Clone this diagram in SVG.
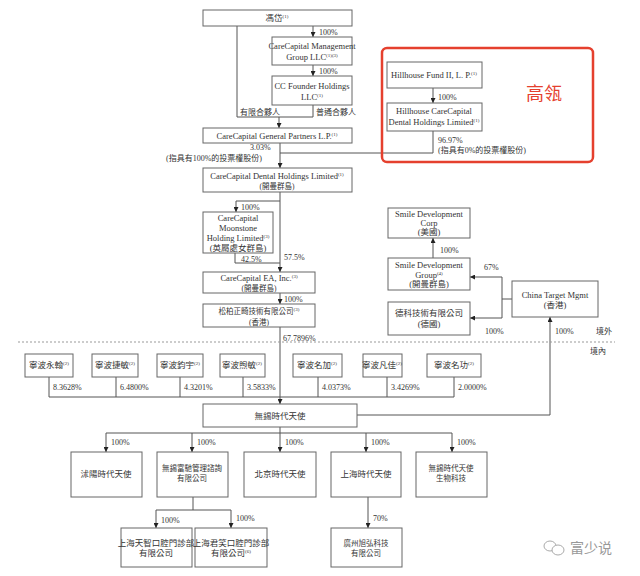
<svg xmlns="http://www.w3.org/2000/svg" width="640" height="576" viewBox="0 0 640 576">
<defs>
<marker id="a" viewBox="0 0 6 6" refX="6" refY="3" markerWidth="5" markerHeight="5" orient="auto" markerUnits="userSpaceOnUse"><path d="M0,0 L6,3 L0,6z" fill="#222"/></marker>
<style>
.b{fill:#fff;stroke:#666;stroke-width:1}
.t{font-family:"Liberation Serif","Noto Sans CJK TC",serif;font-size:8.5px;fill:#333;text-anchor:middle}
.z{font-size:7.5px}
.p{font-family:"Liberation Serif","Noto Sans CJK TC",serif;font-size:8px;fill:#333}
.s{font-size:5px}
.c{fill:none;stroke:#555;stroke-width:1}
.ca{fill:none;stroke:#555;stroke-width:1;marker-end:url(#a)}
</style>
</defs>
<rect width="640" height="576" fill="#fff"/>

<g id="connectors">
<path class="ca" d="M313,26 V37"/>
<path class="ca" d="M313,65 V76"/>
<path class="c" d="M237,26 V117 H313 V105"/>
<path class="ca" d="M279,117 V128"/>
<path class="ca" d="M433,88 V103"/>
<path class="c" d="M433,131 V153 H280"/>
<path class="ca" d="M280,143 V168"/>
<path class="c" d="M280,192 V263"/>
<path class="ca" d="M280,201 H236 V212"/>
<path class="ca" d="M235,253 V263 H280 V272"/>
<path class="ca" d="M280,293 V304"/>
<path class="ca" d="M280,327 V404"/>
<path class="ca" d="M433,258 V238"/>
<path class="c" d="M512,299 H502"/>
<path class="ca" d="M502,299 V277 H470"/>
<path class="ca" d="M502,299 V318 H470"/>
<path class="ca" d="M550,415 V317"/>
<path class="c" d="M550,415 H357"/>
<path class="c" d="M49,377 V397 H454 V377 M116,377 V397 M180,377 V397 M243,377 V397 M318,377 V397 M387,377 V397"/>
<path class="ca" d="M280,427 V452"/>
<path class="c" d="M106,433 H452"/>
<path class="ca" d="M106,433 V452"/>
<path class="ca" d="M192,433 V452"/>
<path class="ca" d="M366,433 V452"/>
<path class="ca" d="M452,433 V452"/>
<path class="c" d="M193,497 V510 M156,510 H231"/>
<path class="ca" d="M156,510 V528"/>
<path class="ca" d="M231,510 V528"/>
<path class="ca" d="M368,497 V528"/>
<line x1="18" y1="342" x2="615" y2="342" stroke="#999" stroke-width="1" stroke-dasharray="2,2"/>
</g>

<g id="labels">
<text class="p" x="319" y="35">100%</text>
<text class="p" x="319" y="74">100%</text>
<text class="p" x="240" y="115">有限合夥人</text>
<text class="p" x="316" y="115">普通合夥人</text>
<text class="p" x="438" y="100">100%</text>
<text class="p" x="438" y="143">96.97%</text>
<text class="p" x="438" y="153">(指具有0%的投票權股份)</text>
<text class="p" x="250" y="150">3.03%</text>
<text class="p" x="166" y="161">(指具有100%的投票權股份)</text>
<text class="p" x="241" y="210">100%</text>
<text class="p" x="241" y="262">42.5%</text>
<text class="p" x="284" y="260">57.5%</text>
<text class="p" x="284" y="302">100%</text>
<text class="p" x="283" y="341">67.7896%</text>
<text class="p" x="440" y="253">100%</text>
<text class="p" x="484" y="270">67%</text>
<text class="p" x="485" y="334">100%</text>
<text class="p" x="555" y="334">100%</text>
<text class="p" x="596" y="334">境外</text>
<text class="p" x="590" y="354">境內</text>
<text class="p" x="53" y="390">8.3628%</text>
<text class="p" x="120" y="390">6.4800%</text>
<text class="p" x="184" y="390">4.3201%</text>
<text class="p" x="247" y="390">3.5833%</text>
<text class="p" x="322" y="390">4.0373%</text>
<text class="p" x="391" y="390">3.4269%</text>
<text class="p" x="458" y="390">2.0000%</text>
<text class="p" x="111" y="445">100%</text>
<text class="p" x="197" y="445">100%</text>
<text class="p" x="285" y="445">100%</text>
<text class="p" x="371" y="445">100%</text>
<text class="p" x="457" y="445">100%</text>
<text class="p" x="161" y="523">100%</text>
<text class="p" x="236" y="521">100%</text>
<text class="p" x="373" y="521">70%</text>
</g>

<g id="hillhouse-group">
<rect x="382" y="48" width="211" height="114" rx="5" fill="none" stroke="#e5402e" stroke-width="2.5"/>
<text x="544" y="100" font-family="Noto Sans CJK SC,sans-serif" font-size="18" fill="#e5402e" text-anchor="middle">高瓴</text>
</g>

<g id="n-fengdai"><rect class="b" x="203" y="10" width="149" height="16"/><text class="t" x="277" y="21">馮岱<tspan class="s" dy="-3">(1)</tspan></text></g>
<g id="n-ccmg"><rect class="b" x="272" y="37" width="80" height="28"/><text class="t" x="312" y="49">CareCapital Management</text><text class="t" x="312" y="60">Group LLC<tspan class="s" dy="-3">(1)(3)</tspan></text></g>
<g id="n-ccfh"><rect class="b" x="272" y="76" width="80" height="29"/><text class="t" x="312" y="89" font-size="9.5">CC Founder Holdings</text><text class="t" x="312" y="100" font-size="9.5">LLC<tspan class="s" dy="-3">(1)</tspan></text></g>
<g id="n-gp"><rect class="b" x="203" y="128" width="149" height="15"/><text class="t" x="277" y="139">CareCapital General Partners L.P.<tspan class="s" dy="-3">(1)</tspan></text></g>
<g id="n-hf"><rect class="b" x="387" y="62" width="95" height="26"/><text class="t" x="434" y="78" font-size="8">Hillhouse Fund II, L. P.<tspan class="s" dy="-3">(1)</tspan></text></g>
<g id="n-hccd"><rect class="b" x="387" y="103" width="95" height="28"/><text class="t" x="434" y="114" font-size="8">Hillhouse CareCapital</text><text class="t" x="434" y="125" font-size="8">Dental Holdings Limited<tspan class="s" dy="-3">(1)</tspan></text></g>
<g id="n-ccdh"><rect class="b" x="203" y="168" width="149" height="24"/><text class="t" x="277" y="179">CareCapital Dental Holdings Limited<tspan class="s" dy="-3">(1)</tspan></text><text class="t z" x="277" y="189">(開曼群島)</text></g>
<g id="n-moon"><rect class="b" x="203" y="212" width="70" height="41"/><text class="t" x="238" y="221">CareCapital</text><text class="t" x="238" y="231">Moonstone</text><text class="t" x="238" y="241">Holding Limited<tspan class="s" dy="-3">(3)</tspan></text><text class="t" x="238" y="251" font-size="7">(英屬處女群島)</text></g>
<g id="n-ea"><rect class="b" x="203" y="272" width="112" height="21"/><text class="t" x="259" y="281">CareCapital EA, Inc.<tspan class="s" dy="-3">(3)</tspan></text><text class="t z" x="259" y="291">(開曼群島)</text></g>
<g id="n-songbai"><rect class="b" x="203" y="304" width="112" height="23"/><text class="t z" x="259" y="314">松柏正畸技術有限公司<tspan class="s" dy="-3">(3)</tspan></text><text class="t z" x="259" y="325">(香港)</text></g>
<g id="n-sdc"><rect class="b" x="388" y="208" width="82" height="30"/><text class="t" x="429" y="217" font-size="8">Smile Development</text><text class="t" x="429" y="226" font-size="8">Corp</text><text class="t" x="429" y="235" font-size="7">(美國)</text></g>
<g id="n-sdg"><rect class="b" x="388" y="258" width="82" height="32"/><text class="t" x="429" y="268" font-size="8">Smile Development</text><text class="t" x="429" y="278" font-size="8">Group<tspan class="s" dy="-3">(4)</tspan></text><text class="t" x="429" y="287" font-size="7">(開曼群島)</text></g>
<g id="n-deke"><rect class="b" x="388" y="302" width="82" height="33"/><text class="t" x="429" y="316" font-size="7.5">德科技術有限公司</text><text class="t" x="429" y="327" font-size="7">(德國)</text></g>
<g id="n-ctm"><rect class="b" x="512" y="281" width="86" height="36"/><text class="t" x="555" y="298" font-size="8">China Target Mgmt</text><text class="t" x="555" y="308" font-size="7">(香港)</text></g>
<g id="n-yonghan"><rect class="b" x="25" y="354" width="48" height="23"/><text class="t" x="49" y="368" font-size="7.5">寧波永翰<tspan class="s" dy="-3">(2)</tspan></text></g>
<g id="n-jiemin"><rect class="b" x="92" y="354" width="46" height="23"/><text class="t" x="115" y="368" font-size="7.5">寧波捷敏<tspan class="s" dy="-3">(2)</tspan></text></g>
<g id="n-junyu"><rect class="b" x="157" y="354" width="46" height="23"/><text class="t" x="180" y="368" font-size="7.5">寧波鈞宇<tspan class="s" dy="-3">(2)</tspan></text></g>
<g id="n-xumin"><rect class="b" x="220" y="354" width="45" height="23"/><text class="t" x="242" y="368" font-size="7.5">寧波煦敏<tspan class="s" dy="-3">(2)</tspan></text></g>
<g id="n-mingjia"><rect class="b" x="293" y="354" width="49" height="23"/><text class="t" x="317" y="368" font-size="7.5">寧波名加<tspan class="s" dy="-3">(2)</tspan></text></g>
<g id="n-fanjia"><rect class="b" x="363" y="354" width="39" height="23"/><text class="t" x="382" y="368" font-size="7.5">寧波凡佳<tspan class="s" dy="-3">(2)</tspan></text></g>
<g id="n-minggong"><rect class="b" x="427" y="354" width="54" height="23"/><text class="t" x="454" y="368" font-size="7.5">寧波名功<tspan class="s" dy="-3">(2)</tspan></text></g>
<g id="n-wuxi"><rect class="b" x="203" y="404" width="154" height="23"/><text class="t" x="280" y="419">無錫時代天使</text></g>
<g id="n-shuyang"><rect class="b" x="71" y="452" width="71" height="45"/><text class="t" x="106" y="477">沭陽時代天使</text></g>
<g id="n-fuchi"><rect class="b" x="157" y="452" width="71" height="45"/><text class="t z" x="192" y="471">無錫富馳管理諮詢</text><text class="t z" x="192" y="481">有限公司</text></g>
<g id="n-beijing"><rect class="b" x="244" y="452" width="72" height="45"/><text class="t" x="280" y="477">北京時代天使</text></g>
<g id="n-shanghai"><rect class="b" x="331" y="452" width="70" height="45"/><text class="t" x="366" y="477">上海時代天使</text></g>
<g id="n-bio"><rect class="b" x="416" y="452" width="71" height="45"/><text class="t z" x="451" y="471">無錫時代天使</text><text class="t z" x="451" y="481">生物科技</text></g>
<g id="n-tianzhi"><rect class="b" x="121" y="528" width="71" height="39"/><text class="t" x="156" y="546" font-size="7">上海天智口腔門診部</text><text class="t" x="156" y="556" font-size="7">有限公司</text></g>
<g id="n-junxiao"><rect class="b" x="195" y="528" width="72" height="39"/><text class="t" x="231" y="546" font-size="7">上海君笑口腔門診部</text><text class="t" x="231" y="556" font-size="7">有限公司<tspan class="s" dy="-3">(6)</tspan></text></g>
<g id="n-guangzhou"><rect class="b" x="331" y="528" width="71" height="39"/><text class="t z" x="366" y="546">廣州旭弘科技</text><text class="t z" x="366" y="556">有限公司</text></g>

<g id="watermark">
<ellipse cx="550" cy="546" rx="6" ry="5" fill="none" stroke="#aaa" stroke-width="1"/>
<ellipse cx="558" cy="550" rx="6" ry="5" fill="#fff" stroke="#aaa" stroke-width="1"/>
<text x="570" y="553" font-family="Noto Sans CJK SC,sans-serif" font-size="14" fill="#999">富少说</text>
</g>
</svg>
